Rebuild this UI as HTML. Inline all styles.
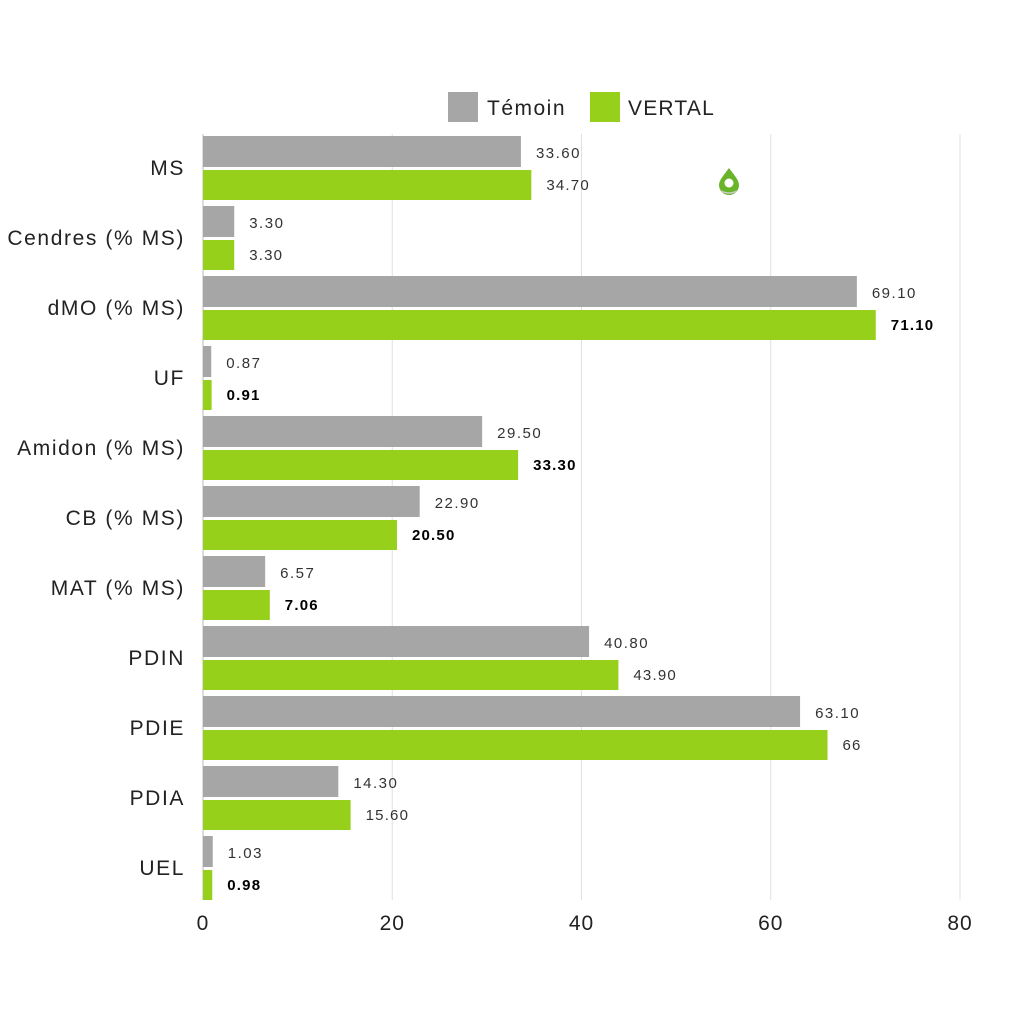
<!DOCTYPE html>
<html><head><meta charset="utf-8"><style>
body{margin:0;background:#fff;}
svg{display:block;font-family:"Liberation Sans",sans-serif;}
</style></head><body>
<svg id="chart" width="1024" height="1024" viewBox="0 0 1024 1024">
<g>
<rect x="448" y="92" width="30" height="30" fill="#a6a6a6"/>
<text x="487" y="115" font-size="21" letter-spacing="1.5" fill="#222">Témoin</text>
<rect x="590" y="92" width="30" height="30" fill="#97d01a"/>
<text x="628" y="115" font-size="21" letter-spacing="1.2" fill="#222">VERTAL</text>
</g>
<g id="grid"></g><g id="bars"></g><g id="labels"></g>
<g transform="translate(729,180)">
<path d="M0,-12 C5,-5 10,0 10,5 A10,10 0 0 1 -10,5 C-10,0 -5,-5 0,-12Z" fill="#6ab42a"/>
<circle cx="0" cy="3" r="4.5" fill="#fff"/>
<path d="M-8,11 Q0,15 8,11" stroke="#ccc" stroke-width="1.5" fill="none"/>
</g>
</svg>
<script>
const categories=["MS","Cendres (% MS)","dMO (% MS)","UF","Amidon (% MS)","CB (% MS)","MAT (% MS)","PDIN","PDIE","PDIA","UEL"];
const temoin=[33.6,3.3,69.1,0.87,29.5,22.9,6.57,40.8,63.1,14.3,1.03];
const vertal=[34.7,3.3,71.1,0.91,33.3,20.5,7.06,43.9,66,15.6,0.98];
const temoinLabels=["33.60","3.30","69.10","0.87","29.50","22.90","6.57","40.80","63.10","14.30","1.03"];
const vertalLabels=["34.70","3.30","71.10","0.91","33.30","20.50","7.06","43.90","66","15.60","0.98"];
const vertalBold=[false,false,true,true,true,true,true,false,false,false,true];
const ticks=[0,20,40,60,80];
const NS="http://www.w3.org/2000/svg";
const x0=203,x1=960,xmax=80;
const xs=v=>x0+(x1-x0)*v/xmax;
const rowC=i=>167+70*i;
function mk(t,a,p){const e=document.createElementNS(NS,t);for(const k in a)e.setAttribute(k,a[k]);p.appendChild(e);return e;}
const grid=document.getElementById('grid'),bars=document.getElementById('bars'),labels=document.getElementById('labels');
ticks.forEach(t=>{
 const l=mk('line',{x1:xs(t),x2:xs(t),y1:134,y2:900,stroke:t===0?'#bbb':'#e0e0e0','stroke-width':1},grid);
 
 
 const tx=mk('text',{x:xs(t),y:930,'font-size':21,'letter-spacing':1,'text-anchor':'middle',fill:'#222'},grid);
 tx.textContent=t;
 
 
});
categories.forEach((c,i)=>{
 const cy=rowC(i);
 const cl=mk('text',{x:185,y:cy+8,'font-size':21,'letter-spacing':1.6,'text-anchor':'end',fill:'#222'},labels);
 cl.textContent=c;
 
 
 const g=mk('rect',{x:x0,y:cy-31,width:xs(temoin[i])-x0,height:31,fill:'#a6a6a6'},bars);
 
 
 const v=mk('rect',{x:x0,y:cy+3,width:xs(vertal[i])-x0,height:30,fill:'#97d01a'},bars);
 
 
 const tl=mk('text',{x:xs(temoin[i])+15,y:cy-9,'font-size':15,'letter-spacing':1.5,fill:'#333'},labels);
 tl.textContent=temoinLabels[i];
 
 
 const vl=mk('text',{x:xs(vertal[i])+15,y:cy+23,'font-size':15,'letter-spacing':1.2,fill:vertalBold[i]?'#000':'#333','font-weight':vertalBold[i]?'bold':'normal'},labels);
 vl.textContent=vertalLabels[i];
 
 
});
</script>
</body></html>
